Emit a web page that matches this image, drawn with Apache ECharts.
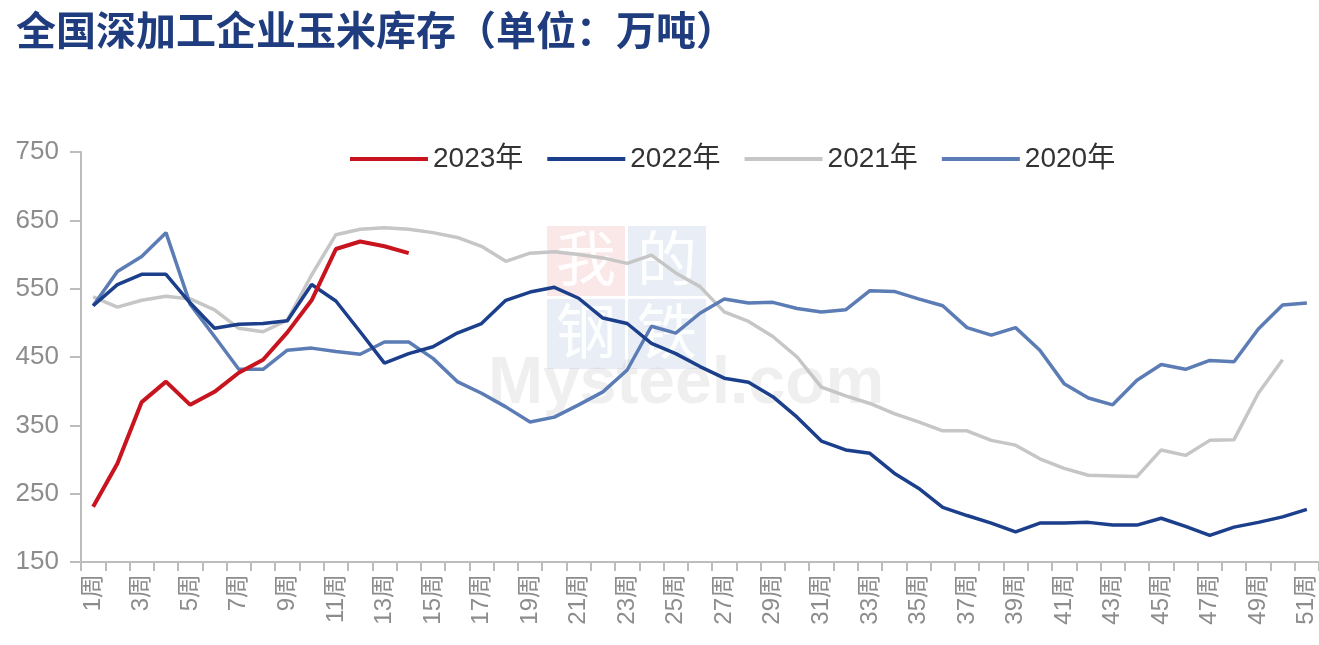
<!DOCTYPE html>
<html>
<head>
<meta charset="utf-8">
<script src="https://cdn.jsdelivr.net/npm/echarts@6/dist/echarts.min.js"></script>
<style>
  html, body { margin: 0; padding: 0; background: #fff; }
  #box { width: 1319px; height: 645px; }
</style>
</head>
<body>
<div id="box"></div>
<script>
// 周次 1..51
var weeks = [];
for (var i = 1; i <= 51; i++) { weeks.push(i + '周'); }

// 各年度库存（万吨），按周读取
var y2023 = [231, 294, 384, 414, 380, 399, 427, 446, 486, 533, 608, 619, 612, 602];
var y2022 = [525, 556, 571, 571, 529, 492, 498, 499, 503, 556, 532, 487, 441, 455, 465, 485, 499, 533, 545, 552,
             536, 507, 499, 470, 455, 436, 419, 413, 392, 362, 327, 314, 309, 280, 258, 230, 218, 207, 194, 207,
             207, 208, 204, 204, 214, 202, 189, 201, 208, 216, 227];
var y2021 = [538, 523, 533, 539, 535, 519, 492, 487, 504, 570, 629, 637, 639, 637, 632, 625, 612, 590, 602, 604,
             600, 595, 587, 599, 573, 553, 516, 502, 480, 450, 406, 393, 382, 367, 355, 342, 342, 328, 321, 301,
             287, 277, 276, 275, 314, 306, 328, 329, 397, 446];
var y2020 = [525, 575, 597, 632, 527, 480, 432, 432, 460, 463, 458, 454, 472, 472, 448, 414, 397, 377, 355, 362,
             380, 399, 431, 495, 485, 514, 535, 529, 530, 521, 516, 519, 547, 546, 535, 525, 493, 482, 493, 460,
             411, 390, 380, 416, 439, 432, 445, 443, 491, 526, 529];

var seriesNames = ['2023年', '2022年', '2021年', '2020年'];
var seriesColors = ['#c8141e', '#1b3f8b', '#c6c6c6', '#5b7cb4'];

var font = 'Liberation Sans, Arial, Noto Sans CJK SC, sans-serif';
var chart = echarts.init(document.getElementById('box'));

var option = {
    backgroundColor: '#fff',
    animation: false,
    title: {
        text: '全国深加工企业玉米库存（单位：万吨）',
        left: 11,
        top: 5,
        textStyle: {
            color: '#1f3c7e',
            fontSize: 40,
            fontWeight: 'bold',
            fontFamily: 'Noto Sans CJK SC, serif'
        }
    },
    // 水印
    graphic: [
        { type: 'rect', left: 547, top: 226, shape: { width: 78, height: 70 }, style: { fill: 'rgba(230,120,130,0.18)' }, z: 0 },
        { type: 'rect', left: 628, top: 226, shape: { width: 78, height: 70 }, style: { fill: 'rgba(120,150,200,0.16)' }, z: 0 },
        { type: 'rect', left: 547, top: 299, shape: { width: 78, height: 70 }, style: { fill: 'rgba(120,150,200,0.16)' }, z: 0 },
        { type: 'rect', left: 628, top: 299, shape: { width: 78, height: 70 }, style: { fill: 'rgba(120,150,200,0.16)' }, z: 0 },
        { type: 'text', left: 556, top: 228, style: { text: '我', fill: 'rgba(255,255,255,0.9)', font: '60px Noto Sans CJK SC' }, z: 0 },
        { type: 'text', left: 637, top: 228, style: { text: '的', fill: 'rgba(255,255,255,0.9)', font: '60px Noto Sans CJK SC' }, z: 0 },
        { type: 'text', left: 556, top: 301, style: { text: '钢', fill: 'rgba(255,255,255,0.9)', font: '60px Noto Sans CJK SC' }, z: 0 },
        { type: 'text', left: 637, top: 301, style: { text: '铁', fill: 'rgba(255,255,255,0.9)', font: '60px Noto Sans CJK SC' }, z: 0 },
        { type: 'text', left: 488, top: 352, style: { text: 'Mysteel.com', fill: 'rgba(190,190,190,0.25)', font: 'bold 66px Liberation Sans' }, z: 0 }
    ],
    legend: {
        data: seriesNames,
        left: 345,
        top: 140,
        icon: 'rect',
        itemWidth: 78,
        itemHeight: 4,
        itemGap: 24,
        textStyle: { color: '#333', fontSize: 28, fontFamily: font }
    },
    grid: {
        left: 81,
        right: 0,
        top: 152,
        bottom: 83
    },
    xAxis: {
        type: 'category',
        data: weeks,
        boundaryGap: true,
        axisLine: { lineStyle: { color: '#bdbdbd', width: 2 } },
        axisTick: { show: true, interval: 0, length: 9, lineStyle: { color: '#bdbdbd', width: 2 } },
        axisLabel: {
            interval: 1,
            rotate: 90,
            color: '#8c8c8c',
            fontSize: 24,
            margin: 12,
            fontFamily: font
        },
        splitLine: { show: false }
    },
    yAxis: {
        type: 'value',
        min: 150,
        max: 750,
        interval: 100,
        axisLine: { show: true, lineStyle: { color: '#bdbdbd', width: 2 } },
        axisTick: { show: true, inside: false, length: 11, lineStyle: { color: '#bdbdbd', width: 2 } },
        axisLabel: { color: '#8c8c8c', fontSize: 26, margin: 22, fontFamily: font },
        splitLine: { show: false }
    },
    series: [
        { name: '2021年', type: 'line', data: y2021, symbol: 'none', z: 2,
          lineStyle: { width: 3.5, color: seriesColors[2] }, itemStyle: { color: seriesColors[2] } },
        { name: '2020年', type: 'line', data: y2020, symbol: 'none', z: 3,
          lineStyle: { width: 3.5, color: seriesColors[3] }, itemStyle: { color: seriesColors[3] } },
        { name: '2022年', type: 'line', data: y2022, symbol: 'none', z: 4,
          lineStyle: { width: 3.5, color: seriesColors[1] }, itemStyle: { color: seriesColors[1] } },
        { name: '2023年', type: 'line', data: y2023, symbol: 'none', z: 5,
          lineStyle: { width: 4, color: seriesColors[0] }, itemStyle: { color: seriesColors[0] } }
    ]
};

chart.setOption(option);
</script>
</body>
</html>
